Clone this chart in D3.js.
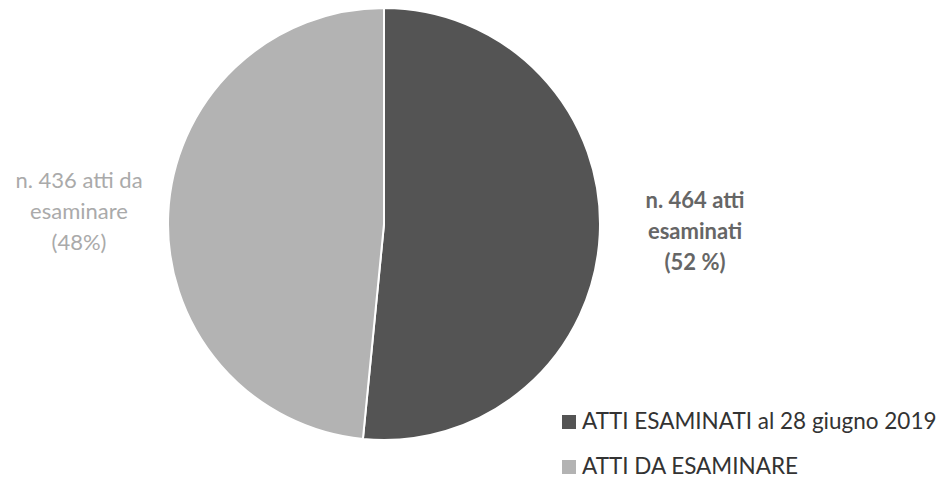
<!DOCTYPE html>
<html>
<head>
<meta charset="utf-8">
<script src="https://cdn.jsdelivr.net/npm/d3@7"></script>
<style>
  body { margin: 0; background: #fff; }
  svg { font-family: Lato, "Open Sans", sans-serif; }
</style>
</head>
<body>
<div id="pie"></div>
<script>
// Data
const categories = ["ATTI ESAMINATI al 28 giugno 2019", "ATTI DA ESAMINARE"];
const counts = [464, 436];
const sliceLabels = [
  ["n. 464 atti", "esaminati", "(52 %)"],
  ["n. 436 atti da", "esaminare", "(48%)"]
];
const colours = ["#545454", "#b3b3b3"];

// Size of page and pie
const width = 945,
  height = 479;
const cx = 384, cy = 224, radius = 216;

const svg = d3.select("#pie")
  .append("svg")
  .attr("width", width)
  .attr("height", height);

const g = svg.append("g")
  .attr("transform", `translate(${cx}, ${cy})`);

// pie starts at 12 o'clock and goes clockwise, no sorting
const pie = d3.pie().sort(null).value(d => d);
const arcs = pie(counts);

const arcGenerator = d3.arc()
  .innerRadius(0)
  .outerRadius(radius);

g.selectAll("path.slice")
  .data(arcs)
  .join("path")
  .attr("class", "slice")
  .attr("d", arcGenerator)
  .attr("fill", (d, i) => colours[i])
  .attr("stroke", "#fff")
  .attr("stroke-width", 2);

// outside labels, three lines each
const labelPos = [
  { x: 695, y: 208, fill: "#666", weight: 700 },
  { x: 79, y: 188, fill: "#aaa", weight: 400 }
];

svg.selectAll("text.lbl")
  .data(sliceLabels)
  .join("text")
  .attr("class", "lbl")
  .attr("x", (d, i) => labelPos[i].x)
  .attr("y", (d, i) => labelPos[i].y)
  .attr("text-anchor", "middle")
  .attr("fill", (d, i) => labelPos[i].fill)
  .attr("font-weight", (d, i) => labelPos[i].weight)
  .style("font-size", "22px")
  .selectAll("tspan")
  .data(d => d)
  .join("tspan")
  .attr("x", function () { return d3.select(this.parentNode).attr("x"); })
  .attr("dy", (d, i) => i === 0 ? 0 : 31)
  .text(d => d);

// legend bottom right
const legend = svg.append("g")
  .attr("transform", "translate(562, 429)");

const item = legend.selectAll("g.item")
  .data(categories)
  .join("g")
  .attr("class", "item")
  .attr("transform", (d, i) => `translate(0, ${i * 45})`);

item.append("rect")
  .attr("x", 0)
  .attr("y", -14)
  .attr("width", 14)
  .attr("height", 14)
  .attr("fill", (d, i) => colours[i]);

item.append("text")
  .attr("x", 20)
  .attr("y", 0)
  .attr("fill", "#333")
  .style("font-size", "22.5px")
  .text(d => d);
</script>
</body>
</html>
